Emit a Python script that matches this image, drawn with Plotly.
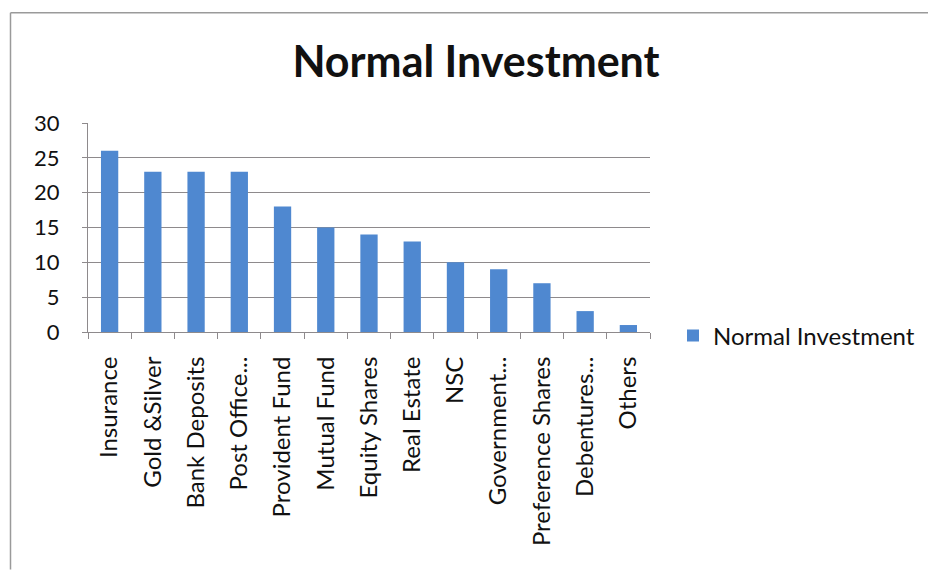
import plotly.graph_objects as go

# Investment avenues and the share of respondents choosing each
categories = [
    "Insurance", "Gold &Silver", "Bank Deposits", "Post Office...",
    "Provident Fund", "Mutual Fund", "Equity Shares", "Real Estate",
    "NSC", "Government...", "Preference Shares", "Debentures...", "Others",
]
values = [26, 23, 23, 23, 18, 15, 14, 13, 10, 9, 7, 3, 1]
y_ticks = [0, 5, 10, 15, 20, 25, 30]

W, H = 928, 570
L, R, T, B = 88, 650, 122.5, 332  # plot area edges in pixels

FONT = "Lato, 'Open Sans', sans-serif"
GRID = "#8e8a8c"

fig = go.Figure(
    go.Bar(
        x=categories,
        y=values,
        name="Normal Investment",
        marker=dict(color="#4F88D0", line=dict(width=0)),
    )
)

def px_x(p):
    return (p - L) / (R - L)

def px_y(p):
    return (B - p) / (B - T)

fig.update_layout(
    width=W,
    height=H,
    margin=dict(l=L, r=W - R, t=T, b=H - B, pad=0, autoexpand=False),
    paper_bgcolor="white",
    plot_bgcolor="white",
    bargap=0.6,
    font=dict(family=FONT, color="#111111"),
    title=dict(
        text="<b>Normal Investment</b>",
        font=dict(family=FONT, size=43, color="#111111"),
        x=476 / W,
        xanchor="center",
        y=1 - 62 / H,
        yanchor="middle",
    ),
    showlegend=True,
    legend=dict(
        x=px_x(673),
        xanchor="left",
        y=px_y(336),
        yanchor="middle",
        font=dict(family=FONT, size=24, color="#111111"),
        itemwidth=30,
        bgcolor="rgba(0,0,0,0)",
    ),
    xaxis=dict(
        type="category",
        tickangle=-90,
        tickfont=dict(family=FONT, size=24, color="#111111"),
        showline=True,
        linecolor=GRID,
        linewidth=1,
        ticks="outside",
        tickson="boundaries",
        ticklen=6,
        tickcolor=GRID,
        showgrid=False,
        ticklabelstandoff=14,
    ),
    yaxis=dict(
        range=[0, 30],
        tickvals=y_ticks,
        tickfont=dict(family=FONT, size=22, color="#111111"),
        showline=True,
        linecolor=GRID,
        linewidth=1,
        ticks="outside",
        ticklen=5,
        tickcolor=GRID,
        showgrid=True,
        gridcolor=GRID,
        gridwidth=1,
        zeroline=False,
        ticklabelstandoff=18,
    ),
    shapes=[
        # outer chart frame (left and top edges)
        dict(type="line", xref="paper", yref="paper",
             x0=px_x(10.5), x1=px_x(10.5), y0=px_y(12), y1=px_y(570),
             line=dict(color="#9a9a9a", width=1.5)),
        dict(type="line", xref="paper", yref="paper",
             x0=px_x(10.5), x1=px_x(928), y0=px_y(12), y1=px_y(12),
             line=dict(color="#9a9a9a", width=1.5)),
    ],
)

fig.write_html("out.html")
